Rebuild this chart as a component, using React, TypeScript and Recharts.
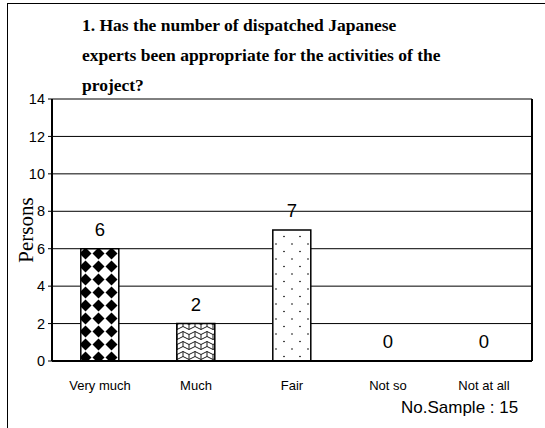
import React from "react";
import {
  ComposedChart,
  Bar,
  Line,
  XAxis,
  YAxis,
  CartesianGrid,
  Cell,
  LabelList,
  Label,
} from "recharts";

const categories = ["Very much", "Much", "Fair", "Not so", "Not at all"];
const persons = [6, 2, 7, 0, 0];
const yTicks = [0, 2, 4, 6, 8, 10, 12, 14];
const patternIds = ["pDiamond", "pWave", "pDots", "pDots", "pDots"];

const data = categories.map((c, i) => ({ name: c, value: persons[i] }));

function Patterns() {
  return (
    <svg width={0} height={0} style={{ position: "absolute" }}>
      <defs>
        <pattern id="pDiamond" width={13} height={13} patternUnits="userSpaceOnUse" x={79} y={0}>
          <rect width={13} height={13} fill="#fff" />
          <polygon points="6.5,0.5 12.5,6.5 6.5,12.5 0.5,6.5" fill="#000" />
        </pattern>
        <pattern id="pWave" width={12} height={10} patternUnits="userSpaceOnUse">
          <rect width={12} height={10} fill="#fff" />
          <path
            d="M0,3 Q3,0 6,3 Q9,6 12,3 M0,8 Q3,5 6,8 Q9,11 12,8 M3,1.5 L3,6.5 M9,4.5 L9,9.5"
            stroke="#000"
            strokeWidth={0.9}
            fill="none"
          />
        </pattern>
        <pattern id="pDots" width={16} height={15} patternUnits="userSpaceOnUse">
          <rect width={16} height={15} fill="#fff" />
          <circle cx={4} cy={4} r={0.8} fill="#000" />
          <circle cx={12} cy={11.5} r={0.8} fill="#000" />
        </pattern>
      </defs>
    </svg>
  );
}

export default function App() {
  return (
    <div
      style={{
        position: "absolute",
        left: 0,
        top: 0,
        width: 545,
        height: 428,
        overflow: "hidden",
        background: "#fff",
        fontFamily: "Liberation Sans, Arial, sans-serif",
      }}
    >
      <Patterns />
      <div
        style={{
          position: "absolute",
          left: 7,
          top: 3,
          width: 600,
          height: 500,
          border: "1px solid #000",
        }}
      />
      <div
        style={{
          position: "absolute",
          left: 82,
          top: 10,
          fontFamily: "Liberation Serif, Times New Roman, serif",
          fontWeight: "bold",
          fontSize: 17.5,
          lineHeight: "30px",
          color: "#000",
        }}
      >
        1. Has the number of dispatched Japanese
        <br />
        experts been appropriate for the activities of the
        <br />
        project?
      </div>
      <div style={{ position: "absolute", left: 0, top: 0 }}>
        <ComposedChart
          width={545}
          height={428}
          data={data}
          margin={{ top: 99, right: 12, bottom: 37, left: 0 }}
          barCategoryGap="30%"
        >
          <CartesianGrid horizontal vertical={false} stroke="#000" strokeWidth={1} />
          <XAxis
            dataKey="name"
            axisLine={{ stroke: "#000", strokeWidth: 2 }}
            tickLine={false}
            tickMargin={14}
            height={30}
            tick={{ fill: "#000", fontSize: 13 }}
            interval={0}
          />
          <YAxis
            type="number"
            domain={[0, 14]}
            ticks={yTicks}
            width={52}
            axisLine={{ stroke: "#000", strokeWidth: 2 }}
            tickLine={{ stroke: "#000" }}
            tickSize={4}
            tickMargin={3}
            tick={{ fill: "#000", fontSize: 14.5 }}
          >
            <Label
              value="Persons"
              angle={-90}
              position="center"
              dx={0}
              style={{
                fontFamily: "Liberation Serif, Times New Roman, serif",
                fontSize: 21,
                fill: "#000",
              }}
            />
          </YAxis>
          <YAxis
            yAxisId="r"
            orientation="right"
            type="number"
            domain={[0, 14]}
            width={1}
            tick={false}
            tickLine={false}
            axisLine={{ stroke: "#000", strokeWidth: 2 }}
          />
          <Bar dataKey="value" stroke="#000" strokeWidth={1.5} isAnimationActive={false}>
            {data.map((d, i) => (
              <Cell key={d.name} fill={`url(#${patternIds[i]})`} />
            ))}
          </Bar>
          <Line
            dataKey="value"
            stroke="none"
            dot={false}
            activeDot={false}
            isAnimationActive={false}
          >
            <LabelList
              dataKey="value"
              position="top"
              offset={13}
              style={{ fill: "#000", fontSize: 18.5 }}
            />
          </Line>
        </ComposedChart>
      </div>
      <div
        style={{
          position: "absolute",
          left: 401,
          top: 398,
          fontSize: 17,
          color: "#000",
        }}
      >
        No.Sample : 15
      </div>
    </div>
  );
}
